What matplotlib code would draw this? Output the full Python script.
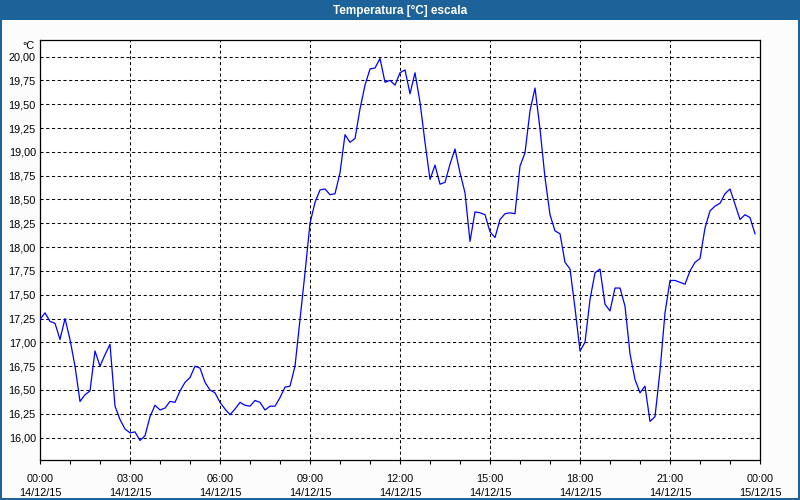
import matplotlib
matplotlib.use("Agg")
import matplotlib.pyplot as plt
from matplotlib.patches import Rectangle

# ---- data (10-minute samples, 14/12/15) ----
minutes = list(range(0, 1440, 10))
temps = [
    17.24, 17.31, 17.22, 17.20, 17.03, 17.25, 17.03, 16.75, 16.38, 16.45, 16.49, 16.91,
    16.75, 16.87, 16.98, 16.33, 16.19, 16.09, 16.05, 16.06, 15.97, 16.02, 16.22, 16.34,
    16.29, 16.31, 16.38, 16.37, 16.49, 16.58, 16.63, 16.75, 16.73, 16.58, 16.50, 16.47,
    16.37, 16.30, 16.24, 16.30, 16.37, 16.34, 16.33, 16.39, 16.37, 16.29, 16.33, 16.33,
    16.42, 16.53, 16.54, 16.75, 17.24, 17.73, 18.25, 18.47, 18.60, 18.61, 18.55, 18.56,
    18.78, 19.18, 19.10, 19.14, 19.45, 19.70, 19.87, 19.88, 19.98, 19.73, 19.75, 19.70,
    19.83, 19.86, 19.61, 19.83, 19.52, 19.10, 18.71, 18.86, 18.66, 18.68, 18.87, 19.03,
    18.78, 18.57, 18.06, 18.37, 18.36, 18.34, 18.16, 18.10, 18.29, 18.35, 18.36, 18.35,
    18.85, 18.99, 19.43, 19.67, 19.24, 18.73, 18.34, 18.17, 18.14, 17.84, 17.77, 17.36,
    16.91, 17.00, 17.45, 17.73, 17.77, 17.40, 17.33, 17.57, 17.57, 17.38, 16.88, 16.61,
    16.47, 16.54, 16.17, 16.22, 16.70, 17.31, 17.65, 17.65, 17.63, 17.61, 17.75, 17.84,
    17.88, 18.20, 18.38, 18.43, 18.46, 18.56, 18.61, 18.45, 18.29, 18.34, 18.31, 18.14,
]
x_tick_minutes = [0, 180, 360, 540, 720, 900, 1080, 1260, 1440]
x_tick_times = ["00:00", "03:00", "06:00", "09:00", "12:00", "15:00", "18:00", "21:00", "00:00"]
x_tick_dates = ["14/12/15"] * 8 + ["15/12/15"]
y_ticks = [16.00, 16.25, 16.50, 16.75, 17.00, 17.25, 17.50, 17.75,
           18.00, 18.25, 18.50, 18.75, 19.00, 19.25, 19.50, 19.75, 20.00]
title = "Temperatura [°C] escala"
unit = "°C"

FONT = ["Liberation Sans", "DejaVu Sans"]
BLUE_FRAME = "#1d6298"

fig = plt.figure(figsize=(8, 5), dpi=100, facecolor="#fbfcfb")

# window frame: title bar and border
fig.patches.append(Rectangle((0, 0.96), 1, 0.04, transform=fig.transFigure,
                             facecolor=BLUE_FRAME, edgecolor="none", zorder=0))
fig.patches.append(Rectangle((0, 0), 0.0025, 1, transform=fig.transFigure,
                             facecolor=BLUE_FRAME, edgecolor="none", zorder=0))
fig.patches.append(Rectangle((0.9975, 0), 0.0025, 1, transform=fig.transFigure,
                             facecolor=BLUE_FRAME, edgecolor="none", zorder=0))
fig.patches.append(Rectangle((0, 0), 1, 0.004, transform=fig.transFigure,
                             facecolor=BLUE_FRAME, edgecolor="none", zorder=0))
fig.text(0.5, 0.979, title, ha="center", va="center", color="white",
         fontsize=8.5, fontweight="bold",
         family=["Liberation Sans Narrow", "Liberation Sans", "DejaVu Sans"])

ax = fig.add_axes([0.05, 0.08, 0.9, 0.84])
ax.set_facecolor("white")
ax.plot(minutes, temps, color="#0000ff", lw=0.9, zorder=3)

ax.set_xlim(0, 1440)
ax.set_ylim(15.765, 20.174)

ax.set_yticks(y_ticks)
ax.set_yticklabels([f"{v:.2f}".replace(".", ",") for v in y_ticks],
                   family=FONT, fontsize=7.8)
ax.tick_params(axis="y", length=0, pad=3)

ax.set_xticks(x_tick_minutes)
ax.set_xticklabels([f"{t}\n{d}" for t, d in zip(x_tick_times, x_tick_dates)],
                   family=FONT, fontsize=7.8, linespacing=1.5)
ax.set_xticks(list(range(0, 1441, 60)), minor=True)
ax.tick_params(axis="x", which="both", length=3, width=0.8, direction="out",
               pad=7, color="black")

ax.grid(True, which="major", color="black", lw=0.75, linestyle=(0, (3, 2.5)))
for s in ax.spines.values():
    s.set_color("black")
    s.set_linewidth(0.9)

fig.text(0.043, 0.908, unit, ha="right", va="center", fontsize=7.8, family=FONT)

fig.savefig("out.png", dpi=100, facecolor=fig.get_facecolor())
